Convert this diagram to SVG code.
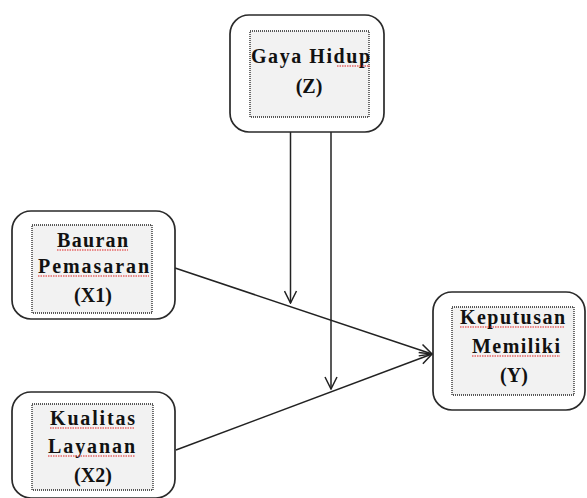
<svg xmlns="http://www.w3.org/2000/svg" width="587" height="498" viewBox="0 0 587 498">
<style>
.box{fill:#fff;stroke:#2a2a2a;stroke-width:1.7}
.inner{fill:#f2f2f2;stroke:#222;stroke-width:1.3;stroke-dasharray:1 1}
.t{font-family:"Liberation Serif","Times New Roman",serif;font-weight:bold;font-size:20px;fill:#111}
.sq{fill:none;stroke:#e02020;stroke-width:1.1;stroke-dasharray:1.5 1}
.ln{fill:none;stroke:#222;stroke-width:1.5}
</style>
<defs>
<marker id="ah" viewBox="0 0 14 14" refX="13" refY="7" markerWidth="14" markerHeight="14" markerUnits="userSpaceOnUse" orient="auto">
<path d="M1,1 L13,7 L1,13" fill="none" stroke="#222" stroke-width="1.5"/>
</marker>
</defs>
<rect width="587" height="498" fill="#fff"/>
<g id="connectors">
<line class="ln" x1="290.5" y1="132" x2="290.5" y2="303" marker-end="url(#ah)"/>
<line class="ln" x1="331" y1="132" x2="331" y2="389" marker-end="url(#ah)"/>
<line class="ln" x1="175" y1="268" x2="432" y2="354" marker-end="url(#ah)"/>
<line class="ln" x1="176" y1="450" x2="432" y2="354" marker-end="url(#ah)"/>
</g>
<g id="node-z">
<rect class="box" x="230" y="15" width="154" height="117" rx="19"/>
<rect class="inner" x="250" y="31" width="119" height="86"/>
<text class="t" x="251" y="63" textLength="119" lengthAdjust="spacing">Gaya Hidup</text>
<path class="sq" d="M337,66 h33"/>
<text class="t" x="309" y="93" text-anchor="middle">(Z)</text>
</g>
<g id="node-x1">
<rect class="box" x="12" y="211" width="163" height="108" rx="19"/>
<rect class="inner" x="32" y="225" width="120" height="88"/>
<text class="t" x="57" y="247" textLength="71" lengthAdjust="spacing">Bauran</text>
<path class="sq" d="M57,250 h71"/>
<text class="t" x="38" y="273" textLength="111" lengthAdjust="spacing">Pemasaran</text>
<path class="sq" d="M38,276 h111"/>
<text class="t" x="93" y="302" text-anchor="middle">(X1)</text>
</g>
<g id="node-x2">
<rect class="box" x="12" y="392" width="163" height="106" rx="19"/>
<rect class="inner" x="32" y="404" width="121" height="86"/>
<text class="t" x="50" y="425" textLength="85" lengthAdjust="spacing">Kualitas</text>
<path class="sq" d="M50,428 h85"/>
<text class="t" x="48" y="453" textLength="87" lengthAdjust="spacing">Layanan</text>
<path class="sq" d="M48,456 h87"/>
<text class="t" x="93" y="482" text-anchor="middle">(X2)</text>
</g>
<g id="node-y">
<rect class="box" x="433" y="292" width="152" height="118" rx="19"/>
<rect class="inner" x="452" y="307" width="122" height="88"/>
<text class="t" x="460" y="324" textLength="105" lengthAdjust="spacing">Keputusan</text>
<path class="sq" d="M460,327 h105"/>
<text class="t" x="472" y="353" textLength="88" lengthAdjust="spacing">Memiliki</text>
<path class="sq" d="M472,356 h88"/>
<text class="t" x="514" y="382" text-anchor="middle">(Y)</text>
</g>
</svg>
